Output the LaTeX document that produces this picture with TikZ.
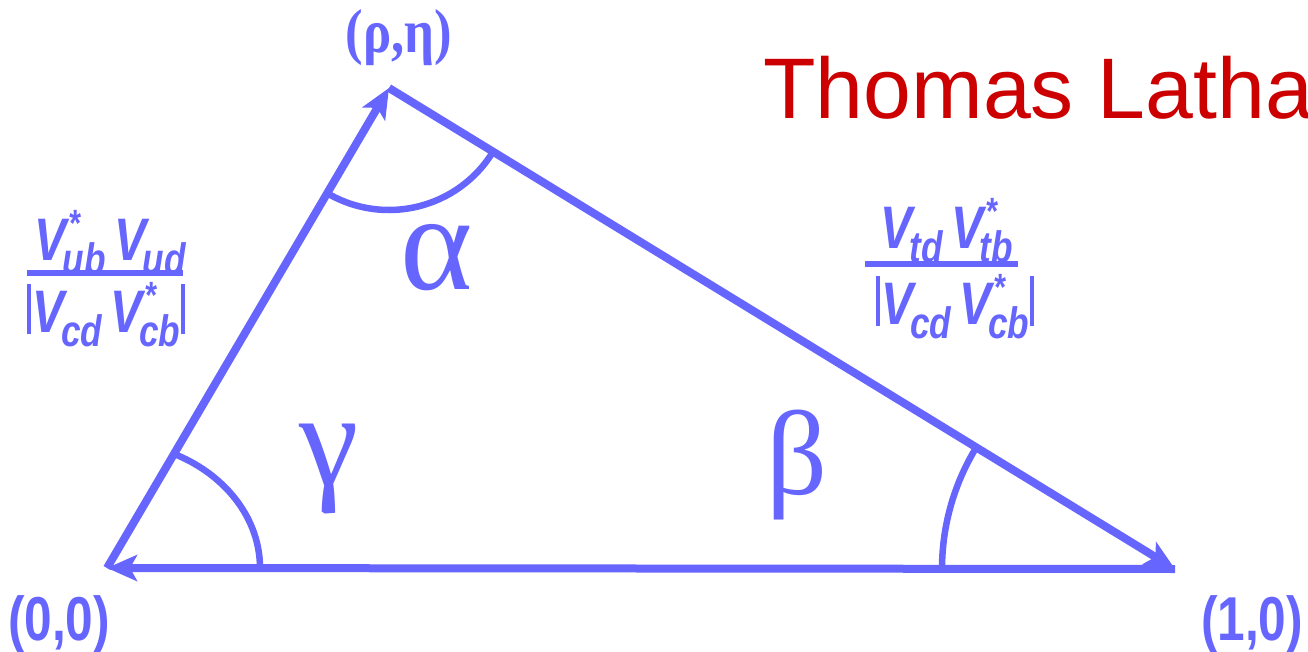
\documentclass[tikz,border=0pt]{standalone}
\usepackage{fontspec}
\usepackage{graphicx}
\usetikzlibrary{arrows.meta}
\newfontfamily\lsans{Liberation Sans}
\newfontfamily\lserif{Liberation Serif}
\definecolor{ckm}{RGB}{102,102,255}
\definecolor{namered}{RGB}{204,0,0}
\newcommand{\fs}[1]{\fontsize{#1}{#1}\selectfont}
% V with subscript #1 and superscript #2
\newcommand{\Vq}[2]{V\kern-4pt\rlap{\raisebox{24pt}{\fs{38}\kern7pt#2}}\raisebox{-14pt}{\fs{44}#1}}
\newcommand{\absbar}{\rule[-2pt]{5pt}{50pt}}
\tikzset{
  edge/.style={line width=8pt, ckm, -{Stealth[length=30pt,width=26pt,inset=7pt]}},
  anglearc/.style={line width=6.5pt, ckm},
  greek/.style={inner sep=0pt, text=ckm},
  vert/.style={inner sep=0pt, text=ckm, font=\lsans\bfseries\fs{62}},
  ckmtext/.style={inner sep=0pt, text=ckm, font=\lsans\bfseries\itshape\fs{60}, anchor=base},
  fracbar/.style={line width=5.5pt, ckm}
}
\begin{document}
\begin{tikzpicture}[x=1pt,y=-1pt]
\useasboundingbox (0,0) rectangle (1308,652);
\clip (0,0) rectangle (1308,652);
% vertices
\coordinate (O) at (107,568);
\coordinate (A) at (389,88);
\coordinate (B) at (1175,569);
% sides
\draw[edge] (O) -- (A);
\draw[edge] (A) -- (B);
\draw[edge] (B) -- (O);
% angle arcs
\draw[anglearc] (O) ++(153,0) arc[start angle=0, end angle=-62.8, x radius=153, y radius=127];
\draw[anglearc] (A) ++(120.4:122) arc[start angle=120.4, end angle=31.5, radius=122];
\draw[anglearc] (B) ++(180:233) arc[start angle=180, end angle=211.5, radius=233];
% greek labels
\node[greek, font=\lserif\fs{138}] (alpha) at (437,258) {α};
\node[greek, font=\lserif\fs{134}] (gamma) at (329,469) {γ};
\node[greek, font=\lserif\fs{120}] (beta) at (797,465) {β};
% vertex labels
\node[inner sep=0pt, text=ckm, font=\lserif\bfseries\fs{62}] (rhoeta) at (399,38) {\scalebox{0.85}[1]{(ρ,η)}};
\node[vert] (zero) at (59,624) {\scalebox{0.8}[1]{(0,0)}};
\node[vert] (one) at (1252,624) {\scalebox{0.8}[1]{(1,0)}};
% left fraction
\node[ckmtext] (lnum) at (110,260) {\scalebox{0.8}[1]{\Vq{ub}{*}\,\Vq{ud}{}}};
\node[ckmtext] (lden) at (106,332) {\scalebox{0.8}[1]{\absbar\kern2pt\Vq{cd}{}\,\Vq{cb}{*}\kern1pt\absbar}};
\coordinate (lb1) at (27,273);
\coordinate (lb2) at (183,273);
\draw[fracbar] (lb1) -- (lb2);
% right fraction
\node[ckmtext] (rnum) at (947,248) {\scalebox{0.8}[1]{\Vq{td}{}\,\Vq{tb}{*}}};
\node[ckmtext] (rden) at (955,324) {\scalebox{0.8}[1]{\absbar\kern2pt\Vq{cd}{}\,\Vq{cb}{*}\kern1pt\absbar}};
\coordinate (rb1) at (865,264);
\coordinate (rb2) at (1018,264);
\draw[fracbar] (rb1) -- (rb2);
% name
\node[inner sep=0pt, anchor=base west, text=namered, font=\lsans\fs{86}] (name) at (763,119) {Thomas Latha};
\end{tikzpicture}
\end{document}
